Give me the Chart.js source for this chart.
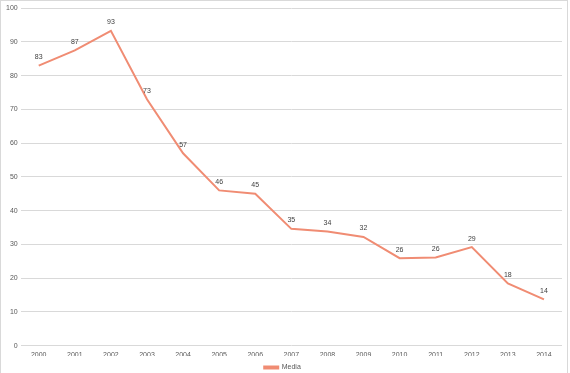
<!DOCTYPE html>
<html lang="en">
<head>
    <meta charset="UTF-8">
    <title>Media</title>
    <script src="https://cdn.jsdelivr.net/npm/chart.js"></script>
    <style>
        html, body { margin: 0; padding: 0; background: #fff; overflow: hidden; }
        .chart-box {
            width: 566px;
            height: 384px;
            border: 1px solid #d9d9d9;
            position: relative;
        }
        #mediaChart { display: block; }
    </style>
</head>
<body>
    <div class="chart-box">
        <canvas id="mediaChart" width="566" height="380"></canvas>
    </div>

<script>
const years = ['2000', '2001', '2002', '2003', '2004', '2005', '2006', '2007',
               '2008', '2009', '2010', '2011', '2012', '2013', '2014'];
const mediaValues = [83.0, 87.5, 93.3, 73.0, 57.0, 46.0, 45.0, 34.6,
                     33.8, 32.2, 25.9, 26.1, 29.2, 18.4, 13.7];
const mediaLabels = [83, 87, 93, 73, 57, 46, 45, 35, 34, 32, 26, 26, 29, 18, 14];

const lineColor = 'rgb(240, 140, 115)';

// draws the value above each point
const pointLabels = {
    id: 'pointLabels',
    afterDatasetsDraw(chart) {
        const ctx = chart.ctx;
        const meta = chart.getDatasetMeta(0);
        ctx.save();
        ctx.font = '7px "Liberation Sans", sans-serif';
        ctx.fillStyle = '#404040';
        ctx.textAlign = 'center';
        ctx.textBaseline = 'bottom';
        meta.data.forEach(function(pt, i) {
            ctx.fillText(String(mediaLabels[i]), pt.x, pt.y - 5);
        });
        ctx.restore();
    }
};

Chart.defaults.font.family = '"Liberation Sans", sans-serif';
Chart.defaults.font.size = 7;
Chart.defaults.color = '#595959';

new Chart(document.getElementById('mediaChart'), {
    type: 'line',
    data: {
        labels: years,
        datasets: [{
            label: 'Media',
            data: mediaValues,
            borderColor: lineColor,
            backgroundColor: lineColor,
            borderWidth: 2,
            pointRadius: 0,
            tension: 0
        }]
    },
    options: {
        responsive: false,
        animation: false,
        layout: { padding: { top: 3, right: 5, left: 2, bottom: 0 } },
        scales: {
            x: {
                offset: true,
                grid: { display: false },
                border: { display: false },
                ticks: { padding: -3, maxRotation: 0 }
            },
            y: {
                min: 0,
                max: 100,
                ticks: { stepSize: 10, padding: 3 },
                grid: { color: '#d9d9d9', drawTicks: false, lineWidth: 1 },
                border: { display: false }
            }
        },
        plugins: {
            legend: {
                position: 'bottom',
                labels: { boxWidth: 14, boxHeight: 2, padding: 8 }
            },
            tooltip: { enabled: false }
        }
    },
    plugins: [pointLabels]
});
</script>
</body>
</html>
